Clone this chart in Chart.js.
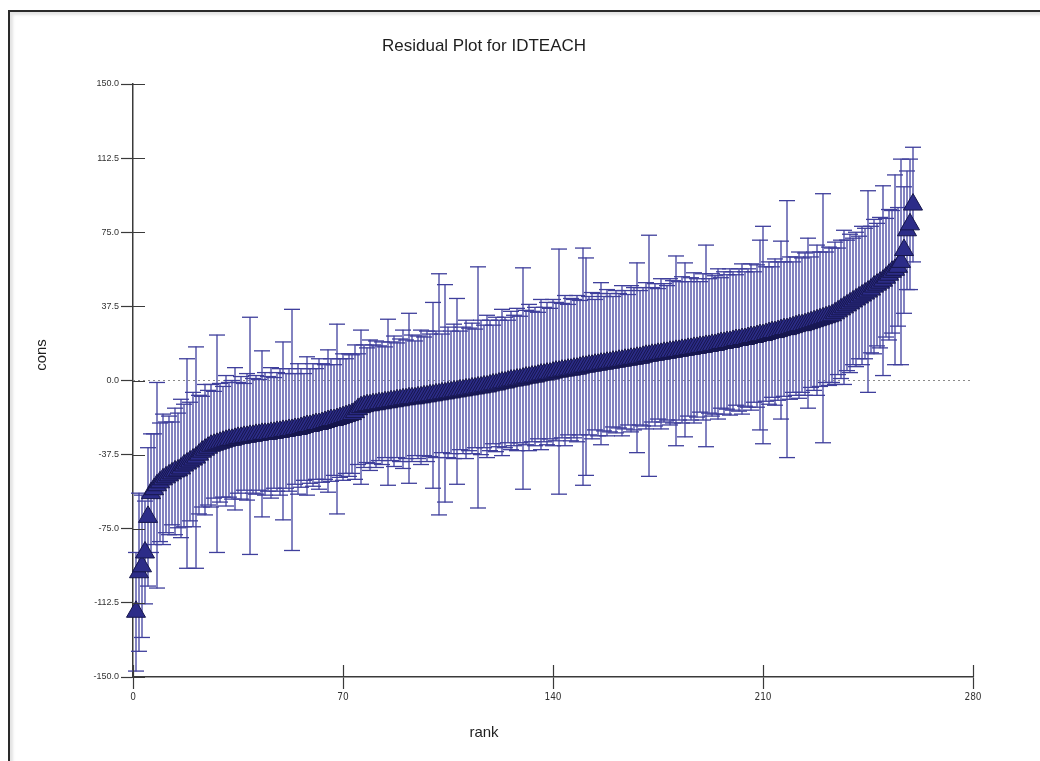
<!DOCTYPE html>
<html>
<head>
<meta charset="utf-8">
<script src="https://cdn.jsdelivr.net/npm/chart.js@4.4.1/dist/chart.umd.min.js"></script>
<style>
  html, body { margin: 0; padding: 0; background: #ffffff; }
  #wrap { position: relative; width: 1040px; height: 761px; overflow: hidden; }
  #c { position: absolute; left: 0; top: 0; }
  #frame { position: absolute; left: 8px; top: 10px; width: 1040px; height: 800px;
           border-left: 2px solid #2a2a2a; border-top: 2px solid #2a2a2a;
           box-shadow: inset 3px 3px 3px #e4e4e4; pointer-events: none; }
</style>
</head>
<body>
<div id="wrap">
  <canvas id="c" width="1040" height="761"></canvas>
  <div id="frame"></div>
</div>
<script>
// ---- data ----
const chartTitle = "Residual Plot for IDTEACH";
const xAxisLabel = "rank";
const yAxisLabel = "cons";
const xTicks = [0, 70, 140, 210, 280];
const yTicks = [-150, -112.5, -75, -37.5, 0, 37.5, 75, 112.5, 150];

// residual estimate for each rank (1..260)
const residuals = [
  -117, -97, -94, -87, -69, -57, -55, -53, -51.5, -50,
  -49, -48, -47, -46, -45.5, -44.5, -43, -42, -41, -40,
  -39, -37.5, -36, -35, -34, -33, -32.5, -32, -31.5, -31,
  -30.5, -30, -30, -29.5, -29, -29, -28.5, -28.5, -28, -28,
  -27.5, -27.5, -27, -27, -27, -26.5, -26.5, -26, -26, -25.5,
  -25.5, -25, -25, -24.5, -24.5, -24, -23.5, -23, -23, -22.5,
  -22, -22, -21.5, -21, -20.5, -20, -20, -19.5, -19, -18.5,
  -18, -17.5, -17, -16, -14.5, -13.5, -13, -12.5, -12.5, -12,
  -12, -11.5, -11.5, -11, -11, -10.5, -10.5, -10, -10, -9.5,
  -9.5, -9, -9, -9, -8.5, -8.5, -8, -8, -7.5, -7.5,
  -7, -7, -6.5, -6.5, -6, -6, -5.5, -5.5, -5, -5,
  -4.5, -4.5, -4, -4, -3.5, -3.5, -3, -3, -2.5, -2,
  -2, -1.5, -1, -1, -0.5, 0, 0, 0.5, 0.5, 1,
  1.5, 1.5, 2, 2, 2.5, 3, 3, 3.5, 3.5, 4,
  4.5, 4.5, 5, 5, 5.5, 5.5, 6, 6, 6.5, 7,
  7, 7.5, 7.5, 8, 8, 8.5, 8.5, 9, 9, 9.5,
  9.5, 10, 10, 10.5, 10.5, 11, 11, 11.5, 11.5, 12,
  12.5, 12.5, 13, 13, 13.5, 13.5, 14, 14, 14.5, 14.5,
  15, 15, 15.5, 15.5, 16, 16, 16.5, 16.5, 17, 17,
  17.5, 17.5, 18, 18, 18.5, 19, 19, 19.5, 19.5, 20,
  20.5, 20.5, 21, 21, 21.5, 22, 22, 22.5, 23, 23,
  23.5, 24, 24.5, 24.5, 25, 25.5, 26, 26, 26.5, 27,
  27.5, 28, 28, 28.5, 29, 29.5, 30, 30.5, 31, 31.5,
  32, 32.5, 33, 34, 35, 36, 37, 38, 39, 40,
  41, 42, 43, 44, 45, 46, 47.5, 48.5, 49.5, 50.5,
  52, 53.5, 55, 56, 57.5, 60, 66, 76, 79, 89
];

// half-length of each error bar (same order as residuals)
const errorHalf = [
  30, 40, 36, 26, 35, 30, 28, 52, 30, 33,
  28, 30, 26, 32, 29, 35, 31, 53, 30, 34,
  56, 30, 28, 33, 29, 31, 27, 55, 30, 28,
  33, 29, 30, 36, 28, 31, 27, 32, 60, 29,
  30, 28, 42, 31, 29, 33, 28, 30, 32, 45,
  29, 31, 61, 28, 33, 30, 27, 35, 29, 31,
  28, 33, 30, 29, 36, 31, 28, 48, 30, 32,
  29, 31, 30, 34, 28, 39, 31, 29, 33, 30,
  32, 29, 31, 28, 42, 30, 33, 29, 31, 35,
  30, 43, 32, 29, 31, 34, 30, 33, 31, 47,
  32, 61, 30, 55, 33, 31, 34, 47, 30, 32,
  35, 31, 33, 30, 61, 34, 31, 36, 33, 30,
  34, 32, 37, 33, 31, 35, 33, 36, 32, 56,
  34, 37, 33, 35, 32, 38, 34, 36, 33, 37,
  35, 62, 34, 38, 33, 36, 35, 37, 34, 60,
  55, 35, 37, 33, 36, 41, 34, 37, 35, 33,
  36, 34, 38, 35, 33, 37, 36, 48, 34, 35,
  37, 61, 34, 36, 33, 38, 35, 34, 37, 36,
  48, 35, 37, 44, 34, 36, 38, 35, 33, 37,
  51, 34, 36, 35, 38, 33, 36, 34, 37, 35,
  33, 36, 38, 34, 35, 37, 33, 36, 48, 55,
  34, 36, 33, 37, 35, 45, 34, 65, 36, 33,
  35, 37, 34, 36, 43, 33, 35, 38, 34, 63,
  33, 35, 34, 36, 32, 35, 39, 33, 35, 32,
  34, 31, 35, 33, 51, 32, 34, 31, 33, 48,
  30, 33, 31, 48, 30, 52, 32, 30, 33, 29
];

const zeroLine = [0, 280];

// ---- build library structures from the arrays ----
const ranks = residuals.map((_, i) => i + 1);
const barData = ranks.map((r, i) => ({ x: r, y: [residuals[i] - errorHalf[i], residuals[i] + errorHalf[i]] }));
const capData = [];
ranks.forEach((r, i) => {
  capData.push({ x: r, y: residuals[i] + errorHalf[i] });
  capData.push({ x: r, y: residuals[i] - errorHalf[i] });
});
const pointData = ranks.map((r, i) => ({ x: r, y: residuals[i] }));
const zeroData = zeroLine.map(v => ({ x: v, y: 0 }));

const AXIS_COLOR = '#3a3a3a';
const TICK_LEN = 12;

const crossTicks = {
  id: 'crossTicks',
  afterDraw(chart) {
    const ctx = chart.ctx;
    const xs = chart.scales.x, ys = chart.scales.y;
    ctx.save();
    ctx.strokeStyle = AXIS_COLOR;
    ctx.lineWidth = 1.2;
    ctx.beginPath();
    yTicks.forEach(v => {
      const py = Math.round(ys.getPixelForValue(v)) + 0.5;
      ctx.moveTo(xs.left, py);
      ctx.lineTo(xs.left + TICK_LEN, py);
    });
    xTicks.forEach(v => {
      const px = Math.round(xs.getPixelForValue(v)) + 0.5;
      ctx.moveTo(px, ys.bottom);
      ctx.lineTo(px, ys.bottom - TICK_LEN);
    });
    ctx.stroke();
    ctx.restore();
  }
};

const labelsPlugin = {
  id: 'labelsPlugin',
  afterDraw(chart) {
    const ctx = chart.ctx;
    ctx.save();
    ctx.fillStyle = '#1e1e1e';
    ctx.textAlign = 'center';
    ctx.textBaseline = 'middle';
    ctx.font = '17px "Liberation Sans", Arial, sans-serif';
    ctx.fillText(chartTitle, 484, 46);
    ctx.font = '15px "Liberation Sans", Arial, sans-serif';
    ctx.fillText(xAxisLabel, 484, 733);
    ctx.translate(42, 355);
    ctx.rotate(-Math.PI / 2);
    ctx.fillText(yAxisLabel, 0, 0);
    ctx.restore();
  }
};

new Chart(document.getElementById('c'), {
  type: 'bar',
  data: {
    datasets: [
      {
        type: 'line',
        data: zeroData,
        borderColor: '#8a8a8a',
        borderWidth: 1,
        borderDash: [2, 3],
        pointRadius: 0,
        order: 5
      },
      {
        type: 'bar',
        data: barData,
        backgroundColor: '#6a6ab4',
        borderWidth: 0,
        barThickness: 1,
        clip: false,
        order: 4
      },
      {
        type: 'scatter',
        data: capData,
        pointStyle: 'line',
        pointRadius: 8,
        borderColor: '#3f3f9c',
        borderWidth: 1.3,
        clip: false,
        order: 3
      },
      {
        type: 'scatter',
        data: pointData,
        pointStyle: 'triangle',
        pointRadius: 11,
        backgroundColor: '#2c2c88',
        borderColor: '#16164c',
        borderWidth: 1,
        clip: false,
        order: 1
      }
    ]
  },
  options: {
    responsive: false,
    animation: false,
    devicePixelRatio: 1,
    layout: { padding: { top: 84, right: 67, left: 0, bottom: 0 } },
    plugins: {
      legend: { display: false },
      title: { display: false },
      tooltip: { enabled: false }
    },
    scales: {
      x: {
        type: 'linear',
        offset: false,
        min: 0, max: 280,
        afterBuildTicks: (s) => { s.ticks = xTicks.map(v => ({ value: v })); },
        afterFit: (s) => { s.height = 84; },
        ticks: {
          color: '#333',
          font: { size: 10, family: '"DejaVu Sans Condensed", "Liberation Sans", sans-serif' },
          padding: 2,
          maxRotation: 0,
          callback: (v) => String(v)
        },
        grid: { offset: false, drawOnChartArea: false, drawTicks: true, tickLength: TICK_LEN, tickColor: AXIS_COLOR, tickWidth: 1.2 },
        border: { display: true, color: AXIS_COLOR, width: 1.5 }
      },
      y: {
        type: 'linear',
        min: -150, max: 150,
        afterBuildTicks: (s) => { s.ticks = yTicks.map(v => ({ value: v })); },
        afterFit: (s) => { s.width = 133; },
        ticks: {
          color: '#333',
          font: { size: 9, family: '"Liberation Sans", Arial, sans-serif' },
          padding: 2,
          callback: (v) => Number(v).toFixed(1)
        },
        grid: { drawOnChartArea: false, drawTicks: true, tickLength: TICK_LEN, tickColor: AXIS_COLOR, tickWidth: 1.2 },
        border: { display: true, color: AXIS_COLOR, width: 1.5 }
      }
    }
  },
  plugins: [crossTicks, labelsPlugin]
});
</script>
</body>
</html>
